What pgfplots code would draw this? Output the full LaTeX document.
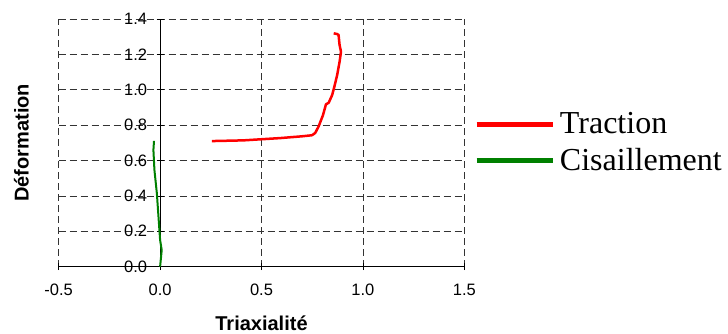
\documentclass[border=0pt]{standalone}
\usepackage{fontspec}
\setmainfont{Liberation Sans}
\newfontfamily\tnr{Liberation Serif}
\usepackage{pgfplots}
\pgfplotsset{compat=1.18}

\begin{document}
\begin{tikzpicture}
\begin{axis}[
  scale only axis, width=405.6pt, height=247.7pt,
  axis lines=middle,
  axis line style={-, black, line width=0.8pt},
  xmin=-0.5, xmax=1.5, ymin=0, ymax=1.4,
  xtick={-0.5,0,0.5,1,1.5},
  ytick={0,0.2,0.4,0.6,0.8,1.0,1.2,1.4},
  hide obscured x ticks=false, hide obscured y ticks=false,
  grid=major,
  major grid style={dash pattern=on 7pt off 4pt, line width=0.8pt, color=black!80},
  tick align=center, major tick length=7pt,
  tick style={black, line width=0.8pt},
  /pgf/number format/assume math mode=true,
  /pgf/number format/fixed, /pgf/number format/fixed zerofill, /pgf/number format/precision=1,
  ticklabel style={font=\fontsize{16.5}{19}\selectfont},
  xticklabel style={anchor=north, yshift=-10pt},
  yticklabel style={anchor=east, xshift=-6pt},
  xlabel={Triaxialité}, ylabel={Déformation},
  xlabel style={font=\bfseries\fontsize{20}{24}\selectfont, at={(axis description cs:0.5,-0.258)}, anchor=base, inner sep=0pt},
  ylabel style={font=\bfseries\fontsize{20}{24}\selectfont, at={(axis description cs:-0.0732,0.5)}, anchor=south, rotate=90, inner sep=0pt},
  legend cell align=left,
  legend style={at={(axis description cs:1.024,0.502)}, anchor=west, draw=none, fill=none,
    font=\tnr\fontsize{32}{36}\selectfont, inner sep=0pt, row sep=9pt},
  legend image code/.code={\draw[#1, line width=5pt] (0pt,0pt) -- (76pt,0pt); \path (80pt,0pt);},
]
\addplot[red, line width=2.5pt, line join=round] coordinates {
 (0.255,0.710) (0.411,0.714) (0.593,0.727) (0.700,0.737) (0.749,0.743) (0.765,0.756)
 (0.782,0.794) (0.803,0.856) (0.818,0.918) (0.831,0.926) (0.848,0.969) (0.859,1.016)
 (0.873,1.083) (0.885,1.158) (0.892,1.215) (0.885,1.253) (0.880,1.310) (0.873,1.315) (0.856,1.319)
};
\addlegendentry{Traction}
\addplot[color={rgb,255:red,0;green,128;blue,0}, line width=2pt, line join=round] coordinates {
 (0,0) (0.008,0.094) (0,0.151) (-0.008,0.283) (-0.016,0.415) (-0.028,0.547) (-0.033,0.660) (-0.030,0.711)
};
\addlegendentry{Cisaillement}
\coordinate (sw) at (rel axis cs:0,0);
\end{axis}
\pgfresetboundingbox
\path (sw) ++(-58.7pt,-67.3pt) rectangle ++(728pt,334pt);
\end{tikzpicture}
\end{document}
